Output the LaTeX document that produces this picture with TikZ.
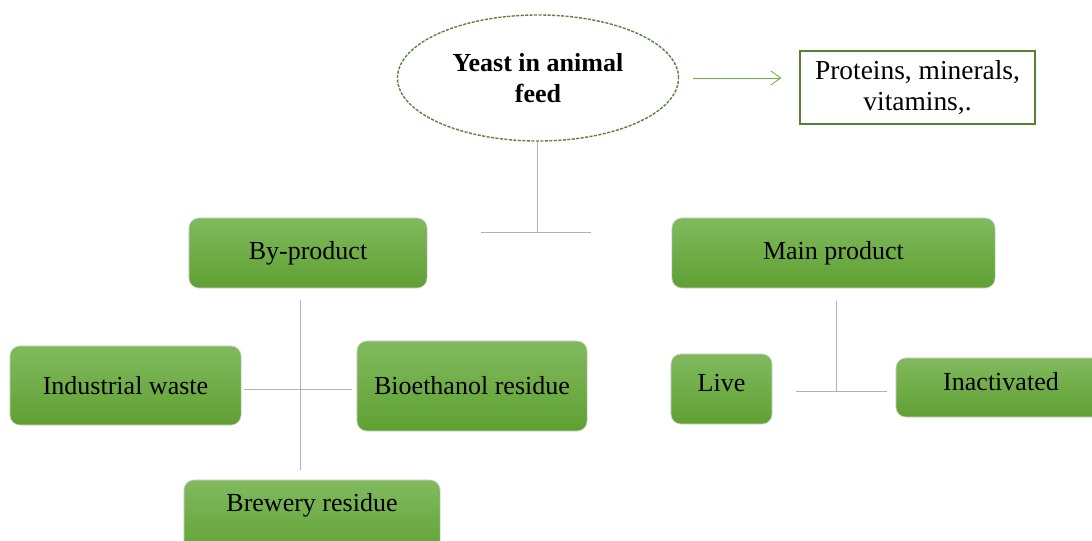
\documentclass[tikz,border=0pt]{standalone}
\usepackage{fontspec}
\setmainfont{Liberation Serif}
\usetikzlibrary{shapes.geometric,arrows.meta}

\definecolor{leafgreen}{RGB}{84,130,53}
\definecolor{arrowgreen}{RGB}{112,173,71}
\definecolor{boxtop}{RGB}{128,186,94}
\definecolor{boxbottom}{RGB}{96,160,50}
\definecolor{linkgray}{RGB}{178,178,178}

\def \boxFont {\fontsize{18.5}{22}\selectfont}

\tikzset{
  greenbox/.style={rectangle, rounded corners=7pt, top color=boxtop, bottom color=boxbottom,
    draw=black!18, line width=0.4pt, inner sep=0pt, font=\boxFont},
  link/.style={draw=linkgray, line width=0.5pt},
}

\begin{document}
\begin{tikzpicture}[x=0.025cm, y=-0.025cm]
  \useasboundingbox (0,0) rectangle (1092,540);

  % top
  \node[ellipse, draw=leafgreen!85!gray, line width=1pt, dash pattern=on 2.2pt off 1pt,
        minimum width=7.025cm, minimum height=3.15cm, inner sep=0pt, align=center,
        font=\boxFont\bfseries] (feed) at (538,78) {Yeast in animal\\feed};
  \node[rectangle, draw=leafgreen, line width=0.9pt, minimum width=5.875cm, minimum height=1.825cm,
        inner sep=0pt, align=center, font=\fontsize{19.5}{22}\selectfont] (nutrients) at (917.5,87.5)
        {Proteins, minerals,\\vitamins,.};
  \draw[arrowgreen, line width=0.6pt, -{Straight Barb[length=2.5mm, width=3.6mm]},
        shorten <=3.5mm, shorten >=4.5mm] (feed.east) -- (feed.east -| nutrients.west);

  % branches
  \coordinate (topjoin) at (537,232);
  \coordinate (topleft) at (481,232);
  \coordinate (topright) at (591,232);
  \draw[link] (feed.south -| topjoin) -- (topjoin);
  \draw[link] (topleft) -- (topright);

  \node[greenbox, minimum width=5.95cm, minimum height=1.75cm] (byprod) at (308,253) {By-product};
  \node[greenbox, minimum width=8.075cm, minimum height=1.75cm] (mainprod) at (833.5,253) {Main product};

  % by-product
  \node[greenbox, minimum width=5.775cm, minimum height=1.975cm] (industrial) at (125.5,385.5) {Industrial waste};
  \node[greenbox, minimum width=5.75cm, minimum height=2.25cm] (bioethanol) at (472,386) {Bioethanol residue};
  \node[greenbox, minimum width=6.4cm, minimum height=2cm, text depth=0.9cm] (brewery) at (312,520) {Brewery residue};
  \coordinate (bytop) at (300,300);
  \coordinate (bybottom) at (300,470);
  \coordinate (byjoin) at (300,389);
  \draw[link] (bytop) -- (bybottom);
  \draw[link, shorten <=0.75mm, shorten >=1.25mm] (industrial.east |- byjoin) -- (bioethanol.west |- byjoin);

  % main product
  \node[greenbox, minimum width=2.525cm, minimum height=1.75cm, text depth=0.3cm] (live) at (721.5,389) {Live};
  \node[greenbox, minimum width=5.25cm, minimum height=1.475cm, text depth=0.3cm] (inactive) at (1001,387.5) {Inactivated};
  \coordinate (maintop) at (836,301);
  \coordinate (mainjoin) at (836,391);
  \coordinate (mainleft) at (796,391);
  \coordinate (mainright) at (887,391);
  \draw[link] (maintop) -- (mainjoin);
  \draw[link] (mainleft) -- (mainright);
\end{tikzpicture}
\end{document}
